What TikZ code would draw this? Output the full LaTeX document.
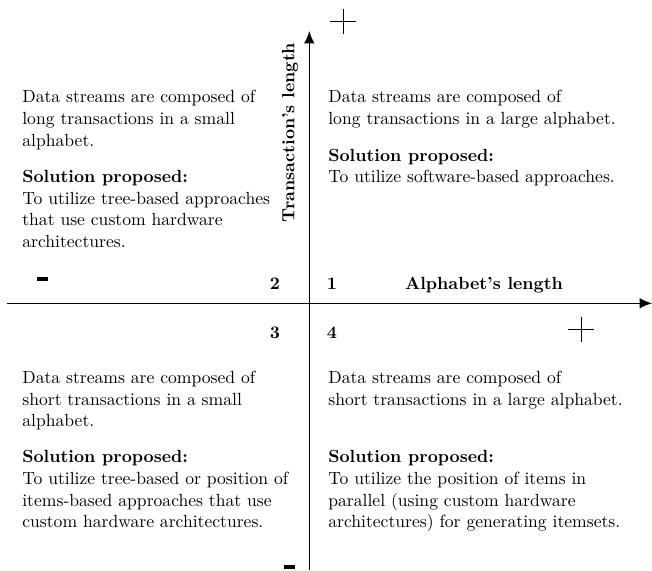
\documentclass[tikz,border=0pt]{standalone}
\usetikzlibrary{arrows.meta}
\begin{document}
\begin{tikzpicture}[x=0.568pt,y=-0.568pt,
  axis/.style={line width=0.8pt, -{Latex[length=7pt,width=6pt]}},
  sign/.style={line width=0.7pt},
  minusbar/.style={fill=black, draw=none},
  txt/.style={anchor=base west, inner sep=0pt},
  head/.style={txt, font=\bfseries},
  num/.style={anchor=base, inner sep=0pt, font=\bfseries}]
\useasboundingbox (0,0) rectangle (652,570);

% axes
\coordinate (xs) at (7,303.3);
\coordinate (xe) at (652,303.3);
\coordinate (ys) at (309.3,570);
\coordinate (ye) at (309.3,31);
\draw[axis] (xs) -- (xe);
\draw[axis] (ys) -- (ye);

% axis titles
\node[num, anchor=base] (xlab) at (484,289) {Alphabet's length};
\node[font=\bfseries, inner sep=0pt, rotate=90] (ylab) at (290,132.5) {Transaction's length};

% quadrant numbers
\node[num] (n1) at (332,289) {1};
\node[num] (n2) at (275,289) {2};
\node[num] (n3) at (275,338) {3};
\node[num] (n4) at (332,338) {4};

% plus and minus marks
\draw[sign] (330.3,21.7) -- (356.3,21.7) (343.3,9.3) -- (343.3,34.3);
\draw[sign] (568.3,329.3) -- (594.3,329.3) (581.3,316.5) -- (581.3,342.3);
\path[minusbar] (37,276.7) rectangle (48,280.7);
\path[minusbar] (284,565) rectangle (295,569);

% quadrant 2 (top left)
\node[txt] (q2a) at (22,102.7) {Data streams are composed of};
\node[txt] (q2b) at (22,124.4) {long transactions in a small};
\node[txt] (q2c) at (22,146.1) {alphabet.};
\node[head] (q2s) at (22,182.5) {Solution proposed:};
\node[txt] (q2d) at (22,204.2) {To utilize tree-based approaches};
\node[txt] (q2e) at (22,225.9) {that use custom hardware};
\node[txt] (q2f) at (22,247.6) {architectures.};

% quadrant 1 (top right)
\node[txt] (q1a) at (328,102.7) {Data streams are composed of};
\node[txt] (q1b) at (328,124.4) {long transactions in a large alphabet.};
\node[head] (q1s) at (328,161) {Solution proposed:};
\node[txt] (q1d) at (328,182.7) {To utilize software-based approaches.};

% quadrant 3 (bottom left)
\node[txt] (q3a) at (22,383.3) {Data streams are composed of};
\node[txt] (q3b) at (22,405) {short transactions in a small};
\node[txt] (q3c) at (22,426.7) {alphabet.};
\node[head] (q3s) at (22,462.8) {Solution proposed:};
\node[txt] (q3d) at (22,484.5) {To utilize tree-based or position of};
\node[txt] (q3e) at (22,506.2) {items-based approaches that use};
\node[txt] (q3f) at (22,527.9) {custom hardware architectures.};

% quadrant 4 (bottom right)
\node[txt] (q4a) at (328,383.3) {Data streams are composed of};
\node[txt] (q4b) at (328,405) {short transactions in a large alphabet.};
\node[head] (q4s) at (328,462.8) {Solution proposed:};
\node[txt] (q4d) at (328,484.5) {To utilize the position of items in};
\node[txt] (q4e) at (328,506.2) {parallel (using custom hardware};
\node[txt] (q4f) at (328,527.9) {architectures) for generating itemsets.};
\end{tikzpicture}
\end{document}
